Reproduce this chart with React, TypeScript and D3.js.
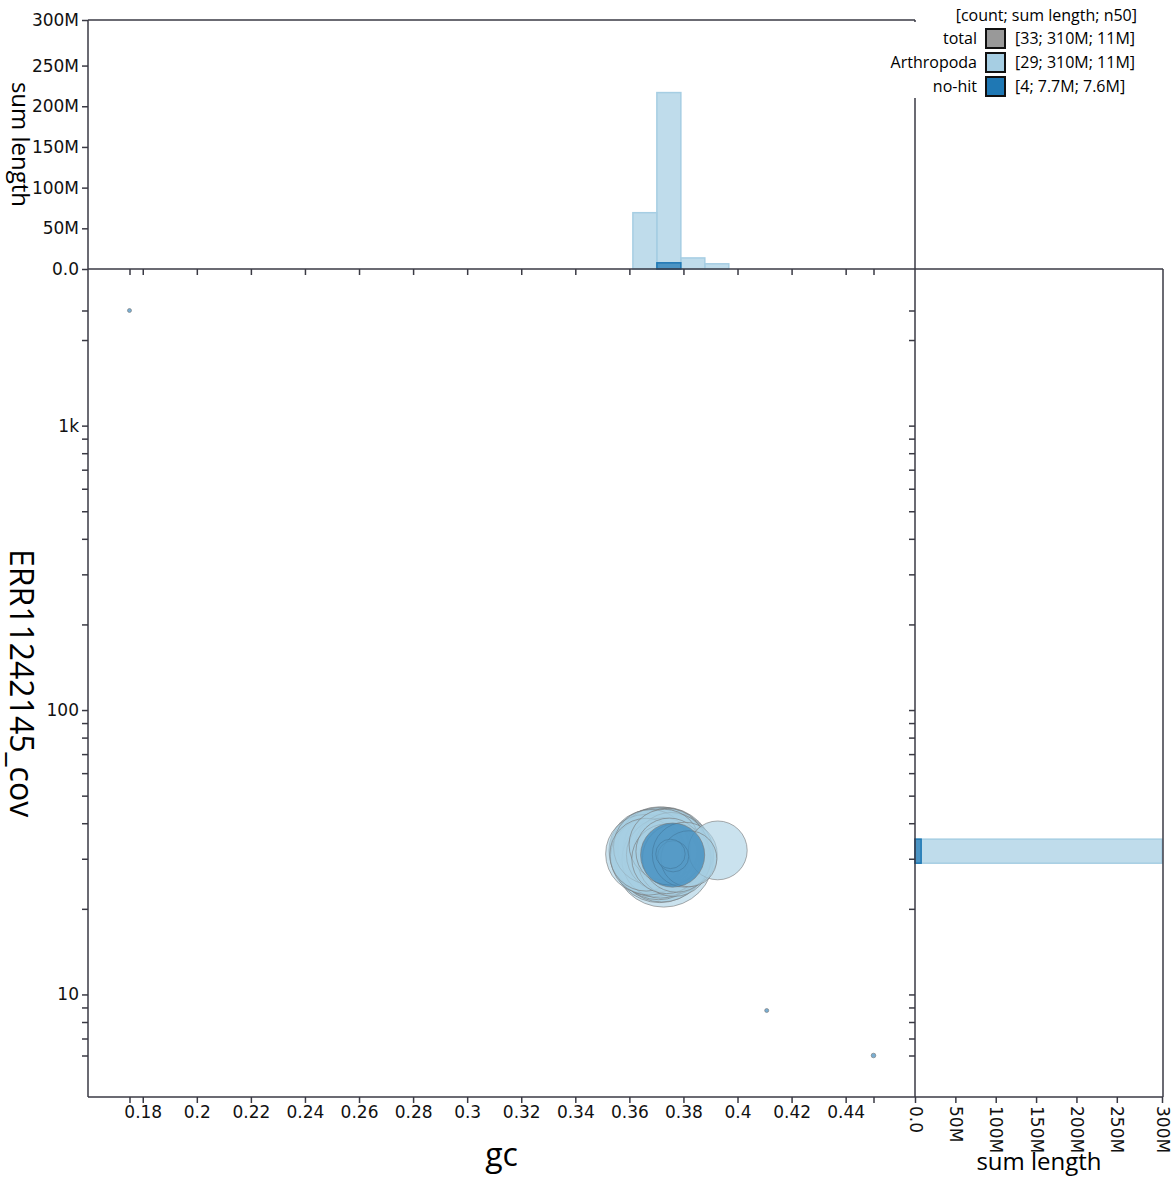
import * as d3 from "d3";
import { useEffect, useRef } from "react";

// contigs assigned to Arthropoda: gc fraction, coverage, length (Mb)
const arthGc = [
  0.369, 0.3675, 0.3658, 0.3672, 0.368, 0.3662,
  0.3727, 0.3712, 0.372, 0.3708, 0.3735, 0.3745, 0.3705, 0.3738, 0.376,
  0.3715, 0.377, 0.374, 0.3755, 0.3725, 0.3765, 0.373, 0.3775, 0.3748,
  0.3762, 0.3752,
  0.3805, 0.382, 0.3927,
];
const arthCov = [
  31.5, 32.0, 31.2, 30.5, 33.0, 31.0,
  30.4, 31.0, 30.8, 31.0, 32.0, 31.2, 32.8, 30.0, 30.8,
  29.8, 31.5, 33.2, 32.3, 31.0, 29.6, 33.6, 30.2, 31.8,
  30.6, 31.2,
  31.0, 30.0, 32.1,
];
const arthLen = [
  14.3, 12.3, 11.5, 10.9, 10.4, 9.8,
  18.5, 17.0, 16.0, 15.0, 13.6, 12.8, 11.9, 9.0, 11.2,
  11.0, 10.7, 10.6, 10.2, 10.0, 9.6, 9.3, 8.7, 8.3,
  1.8, 1.6,
  7.8, 5.8, 6.4,
];

// contigs with no hit
const noHitGc = [0.376, 0.1751, 0.4108, 0.4503];
const noHitCov = [30.9, 2540, 8.78, 6.1];
const noHitLen = [7.6, 0.03, 0.03, 0.04];

const categories = ["Arthropoda", "no-hit"];
const catColors = ["#a6cee3", "#1f78b4"];

const gcTicks = [0.18, 0.2, 0.22, 0.24, 0.26, 0.28, 0.3, 0.32, 0.34, 0.36, 0.38, 0.4, 0.42, 0.44];
const lenTicks = [0, 50e6, 100e6, 150e6, 200e6, 250e6];

// histogram bins
const GC_BIN_START = 0.3613;
const GC_BIN_STEP = 0.00887;
const COV_BIN_START = 1.4615; // log10
const COV_BIN_STEP = 0.0845;

const W = 1172;
const H = 1180;
const mainL = 88;
const mainR = 915;
const mainT = 269;
const mainB = 1097;
const topT = 20;
const rightR = 1163;
const PAD = 41.5;
const AXIS = "#3a3a44";
const TICK_FONT = "DejaVu Sans";
const TITLE_FONT = "Open Sans";

const n50 = (lens) => {
  const s = [...lens].sort((a, b) => b - a);
  const half = d3.sum(s) / 2;
  let acc = 0;
  for (const l of s) {
    acc += l;
    if (acc >= half) return l;
  }
  return 0;
};

const styleAxis = (g) => {
  g.attr("font-family", TICK_FONT).attr("font-size", 17);
  g.select(".domain").remove();
  g.selectAll(".tick line").attr("stroke", AXIS).attr("stroke-width", 1.5);
  g.selectAll(".tick text").attr("fill", "#111");
};

const App = () => {
  const ref = useRef(null);

  useEffect(() => {
    const svg = d3.select(ref.current);
    svg.selectAll("*").remove();

    const contigs = [
      ...arthGc.map((gc, i) => ({ gc, cov: arthCov[i], len: arthLen[i] * 1e6, cat: 0 })),
      ...noHitGc.map((gc, i) => ({ gc, cov: noHitCov[i], len: noHitLen[i] * 1e6, cat: 1 })),
    ];

    const x = d3
      .scaleLinear()
      .domain(d3.extent(contigs, (d) => d.gc))
      .range([mainL + PAD, mainR - PAD]);
    const y = d3
      .scaleLog()
      .domain(d3.extent(contigs, (d) => d.cov))
      .range([mainB - PAD, mainT + PAD]);
    const r = d3.scaleSqrt().domain([0, 18.5e6]).range([0, 50]);

    const catSums = categories.map((c, i) => d3.sum(contigs.filter((d) => d.cat === i), (d) => d.len));
    const histMax = d3.max(catSums);
    const hy = d3.scaleLinear().domain([0, histMax]).range([mainT, topT]);
    const hx = d3.scaleLinear().domain([0, histMax]).range([mainR, rightR - 1]);
    const minBar = histMax / 500;

    const gcThresholds = d3.range(-24, 14).map((i) => GC_BIN_START + i * GC_BIN_STEP);
    const covThresholds = d3.range(-10, 28).map((i) => Math.pow(10, COV_BIN_START + i * COV_BIN_STEP));
    const gcBin = d3.bin().value((d) => d.gc).domain([0.14, 0.48]).thresholds(gcThresholds);
    const covBin = d3
      .bin()
      .value((d) => d.cov)
      .domain([Math.pow(10, 0.6), Math.pow(10, 3.8)])
      .thresholds(covThresholds);

    // top histogram
    const topG = svg.append("g");
    categories.forEach((c, i) => {
      const bins = gcBin(contigs.filter((d) => d.cat === i))
        .map((b) => ({ x0: b.x0, x1: b.x1, sum: d3.sum(b, (d) => d.len) }))
        .filter((b) => b.sum > minBar);
      topG
        .selectAll(null)
        .data(bins)
        .enter()
        .append("rect")
        .attr("x", (b) => x(b.x0))
        .attr("width", (b) => x(b.x1) - x(b.x0))
        .attr("y", (b) => hy(b.sum))
        .attr("height", (b) => mainT - hy(b.sum))
        .attr("fill", catColors[i])
        .attr("fill-opacity", 0.72)
        .attr("stroke", catColors[i])
        .attr("stroke-width", 1.5);
    });

    // right histogram
    const rightG = svg.append("g");
    categories.forEach((c, i) => {
      const bins = covBin(contigs.filter((d) => d.cat === i))
        .map((b) => ({ x0: b.x0, x1: b.x1, sum: d3.sum(b, (d) => d.len) }))
        .filter((b) => b.sum > minBar);
      rightG
        .selectAll(null)
        .data(bins)
        .enter()
        .append("rect")
        .attr("y", (b) => y(b.x1))
        .attr("height", (b) => y(b.x0) - y(b.x1))
        .attr("x", mainR)
        .attr("width", (b) => hx(b.sum) - mainR)
        .attr("fill", catColors[i])
        .attr("fill-opacity", 0.72)
        .attr("stroke", catColors[i])
        .attr("stroke-width", 1.5);
    });

    // blobs: category by category, largest first
    const sorted = [...contigs].sort((a, b) => a.cat - b.cat || b.len - a.len);
    svg
      .append("g")
      .selectAll("circle")
      .data(sorted)
      .enter()
      .append("circle")
      .attr("cx", (d) => x(d.gc))
      .attr("cy", (d) => y(d.cov))
      .attr("r", (d) => r(d.len))
      .attr("fill", (d) => catColors[d.cat])
      .attr("fill-opacity", 0.6)
      .attr("stroke", "#777")
      .attr("stroke-opacity", 0.6)
      .attr("stroke-width", 1);

    // axes
    const [gcMin, gcMax] = x.domain();
    const [covMin, covMax] = y.domain();
    const gcTickVals = [gcMin, ...gcTicks, gcMax];
    const covTickVals = [covMin, ...y.ticks(), covMax];
    const isDecade = (v) => Math.abs(Math.log10(v) - Math.round(Math.log10(v))) < 1e-9;

    svg
      .append("g")
      .attr("transform", `translate(0,${mainB})`)
      .call(
        d3
          .axisBottom(x)
          .tickValues(gcTickVals)
          .tickFormat((d) => (gcTicks.includes(d) ? String(+d.toFixed(2)) : ""))
      )
      .call(styleAxis);

    svg
      .append("g")
      .attr("transform", `translate(${mainL},0)`)
      .call(
        d3
          .axisLeft(y)
          .tickValues(covTickVals)
          .tickFormat((d) => (d !== covMin && d !== covMax && isDecade(d) ? d3.format("~s")(d) : ""))
      )
      .call(styleAxis);

    // top histogram axes
    const lenFmt = (d) => (d === histMax ? d3.format(".1s")(d) : d3.format(".2s")(d));
    svg
      .append("g")
      .attr("transform", `translate(${mainL},0)`)
      .call(d3.axisLeft(hy).tickValues([...lenTicks, histMax]).tickFormat(lenFmt))
      .call(styleAxis);
    svg
      .append("g")
      .attr("transform", `translate(0,${mainT})`)
      .call(d3.axisBottom(x).tickValues(gcTickVals).tickFormat(() => ""))
      .call(styleAxis);

    // right histogram axes
    svg
      .append("g")
      .attr("transform", `translate(${mainR},0)`)
      .call(d3.axisLeft(y).tickValues(covTickVals).tickFormat(() => ""))
      .call(styleAxis);
    const rb = svg
      .append("g")
      .attr("transform", `translate(0,${mainB})`)
      .call(d3.axisBottom(hx).tickValues([...lenTicks, histMax]).tickFormat(lenFmt))
      .call(styleAxis);
    rb.selectAll(".tick text")
      .attr("transform", "rotate(90)")
      .attr("x", 9)
      .attr("y", 0)
      .attr("dy", "0.35em")
      .attr("text-anchor", "start");

    // panel frame lines
    const frame = [
      [mainL, topT, mainL, mainB],
      [mainL, mainB, rightR, mainB],
      [mainL, mainT, rightR, mainT],
      [mainR, topT, mainR, mainB],
      [mainL, topT, mainR, topT],
      [rightR, mainT, rightR, mainB],
    ];
    svg
      .append("g")
      .selectAll("line")
      .data(frame)
      .enter()
      .append("line")
      .attr("x1", (d) => d[0])
      .attr("y1", (d) => d[1])
      .attr("x2", (d) => d[2])
      .attr("y2", (d) => d[3])
      .attr("stroke", AXIS)
      .attr("stroke-width", 1.5);

    // axis titles
    svg
      .append("text")
      .attr("x", (mainL + mainR) / 2)
      .attr("y", 1166)
      .attr("text-anchor", "middle")
      .attr("font-family", TITLE_FONT)
      .attr("font-size", 32)
      .text("gc");
    svg
      .append("text")
      .attr("transform", `translate(10,${(mainT + mainB) / 2}) rotate(90)`)
      .attr("text-anchor", "middle")
      .attr("font-family", TITLE_FONT)
      .attr("font-size", 32)
      .text("ERR11242145_cov");
    svg
      .append("text")
      .attr("transform", `translate(12,${(topT + mainT) / 2}) rotate(90)`)
      .attr("text-anchor", "middle")
      .attr("font-family", TITLE_FONT)
      .attr("font-size", 24)
      .text("sum length");
    svg
      .append("text")
      .attr("x", (mainR + rightR) / 2)
      .attr("y", 1170)
      .attr("text-anchor", "middle")
      .attr("font-family", TITLE_FONT)
      .attr("font-size", 24)
      .text("sum length");

    // legend
    const legend = svg.append("g").attr("font-family", TITLE_FONT).attr("font-size", 16);
    legend.append("rect").attr("x", 885).attr("y", 22).attr("width", W - 885).attr("height", 76).attr("fill", "white");
    legend.append("text").attr("x", 1137).attr("y", 21).attr("text-anchor", "end").text("[count; sum length; n50]");
    const fmt = d3.format(".2s");
    const rows = [
      { label: "total", color: "#999999", lens: contigs.map((d) => d.len) },
      ...categories.map((c, i) => ({
        label: c,
        color: catColors[i],
        lens: contigs.filter((d) => d.cat === i).map((d) => d.len),
      })),
    ];
    rows.forEach((row, i) => {
      const ry = 29 + i * 24;
      legend.append("text").attr("x", 977).attr("y", ry + 15).attr("text-anchor", "end").text(row.label);
      legend
        .append("rect")
        .attr("x", 986)
        .attr("y", ry)
        .attr("width", 19)
        .attr("height", 19)
        .attr("fill", row.color)
        .attr("stroke", "#111")
        .attr("stroke-width", 2);
      legend
        .append("text")
        .attr("x", 1015)
        .attr("y", ry + 15)
        .text(`[${row.lens.length}; ${fmt(d3.sum(row.lens))}; ${fmt(n50(row.lens))}]`);
    });
  }, []);

  return <svg ref={ref} width={W} height={H} style={{ position: "absolute", left: 0, top: 0, background: "white" }} />;
};

export default App;
